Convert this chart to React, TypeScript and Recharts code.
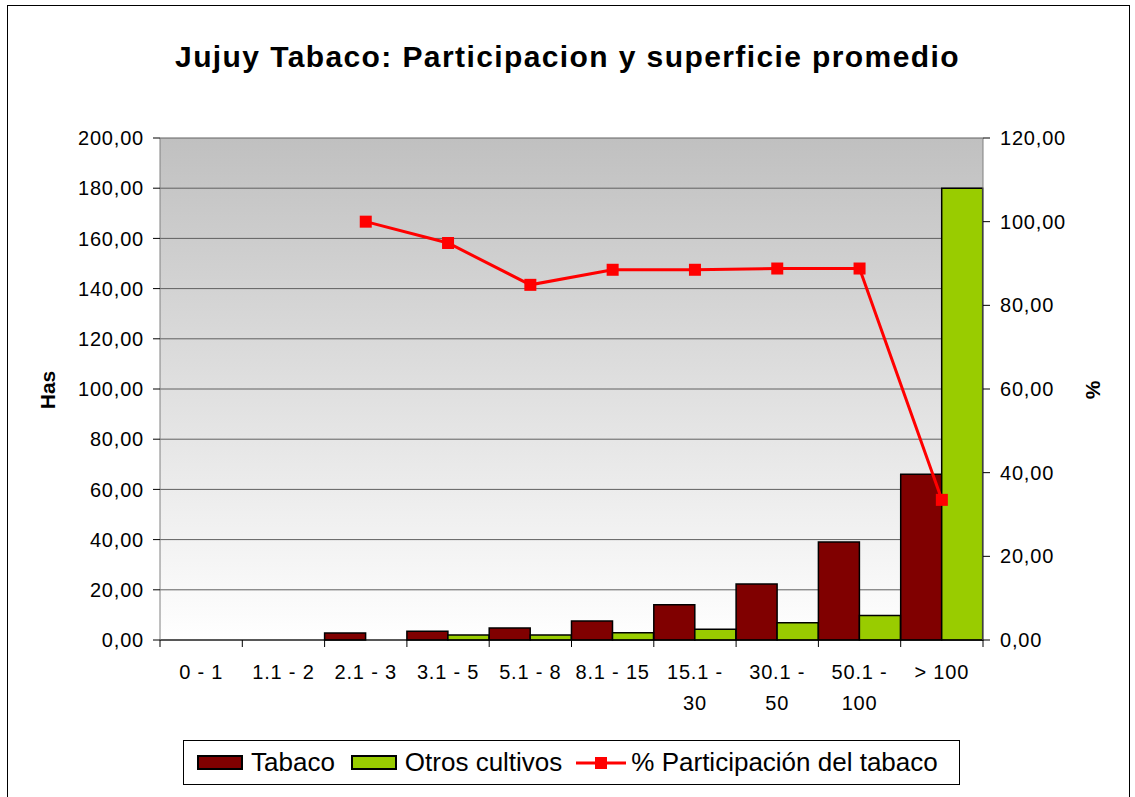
import React from "react";
import {
  Bar,
  CartesianGrid,
  ComposedChart,
  Line,
  XAxis,
  YAxis,
} from "recharts";

const categories = [
  "0 - 1",
  "1.1 - 2",
  "2.1 - 3",
  "3.1 - 5",
  "5.1 - 8",
  "8.1 - 15",
  "15.1 - 30",
  "30.1 - 50",
  "50.1 - 100",
  "> 100",
];
const tabaco = [0, 0, 2.8, 3.5, 4.8, 7.6, 14.0, 22.3, 39.0, 66.0];
const otros = [0, 0, 0, 2.0, 2.0, 2.9, 4.3, 6.9, 9.8, 180.0];
const participacion = [null, null, 100.0, 94.9, 84.9, 88.5, 88.5, 88.8, 88.8, 33.5];
const leftTicks = [0, 20, 40, 60, 80, 100, 120, 140, 160, 180, 200];
const rightTicks = [0, 20, 40, 60, 80, 100, 120];

const data = categories.map((c, i) => ({
  cat: c,
  tabaco: tabaco[i],
  otros: otros[i],
  pct: participacion[i],
}));

const W = 1135;
const H = 797;
const PLOT_LEFT = 160;
const PLOT_RIGHT = 983;
const PLOT_BOTTOM = 640;
const BAND = (PLOT_RIGHT - PLOT_LEFT) / categories.length;
const FONT = "'Liberation Sans', Arial, sans-serif";

const fmt = (v: number) => v.toFixed(2).replace(".", ",");

const XTick = (props: any) => {
  const { x, payload, index } = props;
  const label: string = payload.value;
  const lines =
    label.length > 8 ? [label.slice(0, label.indexOf("-") + 1), label.slice(label.indexOf("-") + 2)] : [label];
  const left = x - BAND / 2;
  return (
    <g>
      <line x1={left} x2={left} y1={PLOT_BOTTOM} y2={PLOT_BOTTOM + 7} stroke="#000" />
      {index === categories.length - 1 && (
        <line x1={x + BAND / 2} x2={x + BAND / 2} y1={PLOT_BOTTOM} y2={PLOT_BOTTOM + 7} stroke="#000" />
      )}
      {lines.map((l, i) => (
        <text
          key={i}
          x={x}
          y={PLOT_BOTTOM + 39 + i * 31}
          textAnchor="middle"
          fontSize={20}
          letterSpacing={0.8}
          fontFamily={FONT}
          fill="#000"
        >
          {l}
        </text>
      ))}
    </g>
  );
};

const SquareDot = (props: any) => {
  const { cx, cy } = props;
  if (cx == null || cy == null) return null;
  return <rect x={cx - 6} y={cy - 6} width={12} height={12} fill="#ff0000" />;
};

export default function App() {
  return (
    <div style={{ position: "absolute", left: 0, top: 0, width: W, height: H, background: "#fff", overflow: "hidden" }}>
      <svg width={0} height={0} style={{ position: "absolute" }}>
        <defs>
          <linearGradient id="plotBg" x1="0" y1="0" x2="0" y2="1">
            <stop offset="0%" stopColor="#c0c0c0" />
            <stop offset="100%" stopColor="#ffffff" />
          </linearGradient>
        </defs>
      </svg>
      <div
        style={{
          position: "absolute",
          left: 7,
          top: 5,
          width: 1123,
          height: 800,
          border: "1px solid #000",
          boxSizing: "border-box",
        }}
      />
      <ComposedChart
        width={W}
        height={H}
        data={data}
        margin={{ top: 138, right: 72, bottom: 77, left: 20 }}
        barGap={0}
        barCategoryGap={0}
      >
        <CartesianGrid vertical={false} stroke="#606060" fill="url(#plotBg)" fillOpacity={1} yAxisId="left" />
        <XAxis
          dataKey="cat"
          height={80}
          tickLine={false}
          axisLine={{ stroke: "#000" }}
          interval={0}
          tick={<XTick />}
        />
        <YAxis
          yAxisId="left"
          width={140}
          domain={[0, 200]}
          ticks={leftTicks}
          tickFormatter={fmt}
          tickSize={7}
          tickMargin={9}
          axisLine={{ stroke: "#808080" }}
          tickLine={{ stroke: "#000" }}
          tick={{ fill: "#000", fontSize: 20, fontFamily: FONT, letterSpacing: 0.8 }}
        />
        <YAxis
          yAxisId="right"
          orientation="right"
          width={80}
          domain={[0, 120]}
          ticks={rightTicks}
          tickFormatter={fmt}
          tickSize={7}
          tickMargin={10}
          axisLine={{ stroke: "#808080" }}
          tickLine={{ stroke: "#000" }}
          tick={{ fill: "#000", fontSize: 20, fontFamily: FONT, letterSpacing: 0.8, textAnchor: "start" }}
        />
        <Bar
          yAxisId="left"
          dataKey="tabaco"
          fill="#800000"
          stroke="#000"
          strokeWidth={1.5}
          isAnimationActive={false}
        />
        <Bar
          yAxisId="left"
          dataKey="otros"
          fill="#99cc00"
          stroke="#000"
          strokeWidth={1.5}
          isAnimationActive={false}
        />
        <Line
          yAxisId="right"
          dataKey="pct"
          stroke="#ff0000"
          strokeWidth={3}
          dot={<SquareDot />}
          activeDot={false}
          isAnimationActive={false}
        />
      </ComposedChart>
      <div
        style={{
          position: "absolute",
          left: 0,
          width: W,
          top: 37,
          textAlign: "center",
          fontFamily: FONT,
          fontWeight: "bold",
          fontSize: 30,
          letterSpacing: 1.4,
          lineHeight: "40px",
          color: "#000",
        }}
      >
        Jujuy Tabaco: Participacion y superficie promedio
      </div>
      <div
        style={{
          position: "absolute",
          left: 48,
          top: 390,
          transform: "translate(-50%, -50%) rotate(-90deg)",
          fontFamily: FONT,
          fontWeight: "bold",
          fontSize: 21,
        }}
      >
        Has
      </div>
      <div
        style={{
          position: "absolute",
          left: 1093,
          top: 390,
          transform: "translate(-50%, -50%) rotate(-90deg)",
          fontFamily: FONT,
          fontWeight: "bold",
          fontSize: 21,
        }}
      >
        %
      </div>
      <div
        style={{
          position: "absolute",
          left: 183,
          top: 740,
          width: 777,
          height: 45,
          border: "1px solid #000",
          boxSizing: "border-box",
          background: "#fff",
          display: "flex",
          alignItems: "center",
          paddingLeft: 13,
          fontFamily: FONT,
          fontSize: 26,
          color: "#000",
          whiteSpace: "nowrap",
        }}
      >
        <span style={{ width: 46, height: 15, background: "#800000", border: "2px solid #000", boxSizing: "border-box" }} />
        <span style={{ marginLeft: 8, marginRight: 16 }}>Tabaco</span>
        <span style={{ width: 46, height: 15, background: "#99cc00", border: "2px solid #000", boxSizing: "border-box" }} />
        <span style={{ marginLeft: 8, marginRight: 14 }}>Otros cultivos</span>
        <svg width={50} height={20}>
          <line x1={0} x2={50} y1={10} y2={10} stroke="#ff0000" strokeWidth={3} />
          <rect x={19} y={4} width={12} height={12} fill="#ff0000" />
        </svg>
        <span style={{ marginLeft: 5 }}>% Participación del tabaco</span>
      </div>
    </div>
  );
}
